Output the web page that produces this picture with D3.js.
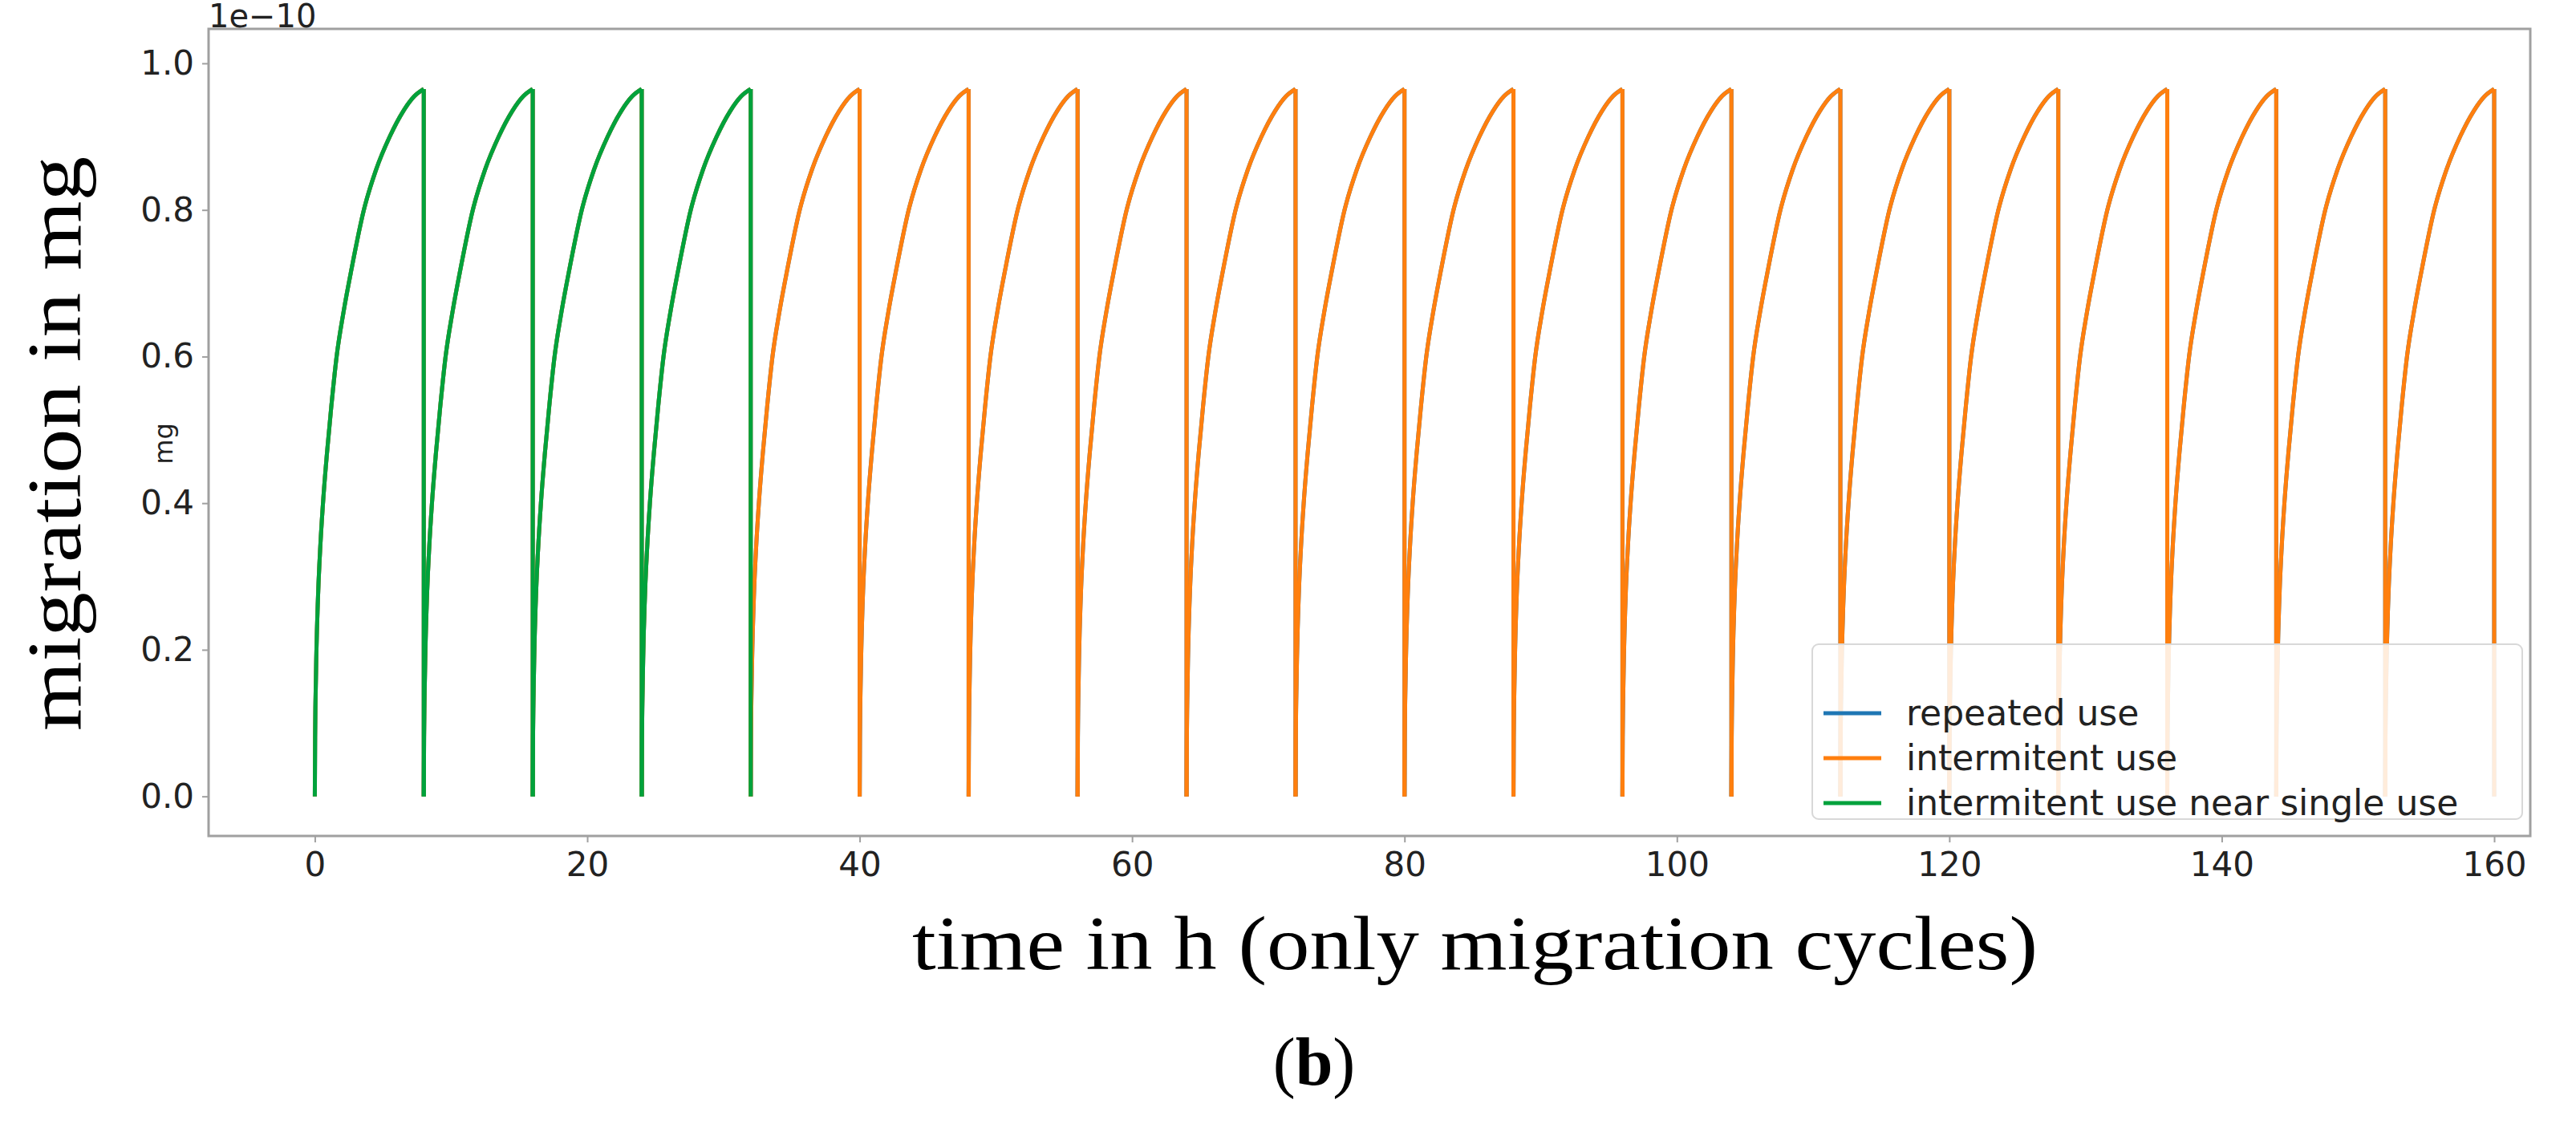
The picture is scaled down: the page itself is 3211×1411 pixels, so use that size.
<!DOCTYPE html>
<html><head><meta charset="utf-8">
<script src="https://cdn.jsdelivr.net/npm/d3@7"></script>
<style>body{margin:0;background:#fff}</style>
</head><body>
<svg id="c" width="3211" height="1411"></svg>
<script>
// One 8-hour migration cycle profile (hours within cycle, value in 1e-10 mg)
const cycleT = [0, 0.02, 0.05, 0.12, 0.25, 0.4, 0.6, 0.9, 1.2, 1.6, 2.1, 2.7, 3.6, 4.5, 5.5, 6.5, 7.3, 8.0];
const cycleY = [0, 0.08, 0.13, 0.2, 0.28, 0.34, 0.40, 0.47, 0.53, 0.60, 0.66, 0.72, 0.80, 0.855, 0.90, 0.935, 0.955, 0.965];
const cycleStarts = [0,8,16,24,32,40,48,56,64,72,80,88,96,104,112,120,128,136,144,152];
const greenStarts = [0,8,16,24];
const seriesNames = ["repeated use","intermitent use","intermitent use near single use"];
const seriesColors = ["#1f77b4","#ff7f0e","#00a23c"];
const xTicks = [0,20,40,60,80,100,120,140,160];
const yTicks = [0.0,0.2,0.4,0.6,0.8,1.0];

const svg = d3.select("#c");
const L=260, R=3154, T=36, B=1042;
const x = d3.scaleLinear().domain([-7.8,162.65]).range([L,R]);
const y = d3.scaleLinear().domain([-0.054,1.047]).range([B,T]);

const line = d3.line().x(d=>x(d[0])).y(d=>y(d[1])).curve(d3.curveMonotoneX);
const g = svg.append("g");
function drawSeries(starts,color){
  starts.forEach(s=>{
    const seg = cycleT.map((t,i)=>[s+t,cycleY[i]]);
    g.append("path").attr("d",line(seg)).attr("fill","none").attr("stroke",color).attr("stroke-width",5).attr("stroke-linejoin","round");
    const last = seg[seg.length-1];
    g.append("line").attr("x1",x(last[0])).attr("x2",x(last[0]))
      .attr("y1",y(last[1])).attr("y2",y(0)).attr("stroke",color).attr("stroke-width",5);
  });
}
drawSeries(cycleStarts,seriesColors[0]);
drawSeries(cycleStarts,seriesColors[1]);
drawSeries(greenStarts,seriesColors[2]);

// frame
svg.append("rect").attr("x",L).attr("y",T).attr("width",R-L).attr("height",B-T)
  .attr("fill","none").attr("stroke","#a0a0a0").attr("stroke-width",3);

const font="DejaVu Sans, sans-serif";
const xa = svg.append("g").attr("transform",`translate(0,${B})`)
  .call(d3.axisBottom(x).tickValues(xTicks).tickSize(8).tickPadding(12));
const ya = svg.append("g").attr("transform",`translate(${L},0)`)
  .call(d3.axisLeft(y).tickValues(yTicks).tickSize(8).tickPadding(10).tickFormat(d3.format(".1f")));
[xa,ya].forEach(a=>{
  a.select(".domain").remove();
  a.selectAll("line").attr("stroke","#a0a0a0").attr("stroke-width",2);
  a.selectAll("text").attr("font-family",font).attr("font-size",42).attr("fill","#222");
});
svg.append("text").attr("x",L).attr("y",T-2).attr("font-family",font).attr("font-size",40).attr("fill","#222").text("1e\u221210");

// legend
const lg = svg.append("g");
lg.append("rect").attr("x",2259).attr("y",803).attr("width",885).attr("height",218).attr("rx",8)
  .attr("fill","#fff").attr("fill-opacity",0.85).attr("stroke","#d8d8d8").attr("stroke-width",2);
seriesNames.forEach((n,i)=>{
  const yy = 889+i*56;
  lg.append("line").attr("x1",2273).attr("x2",2345).attr("y1",yy).attr("y2",yy).attr("stroke",seriesColors[i]).attr("stroke-width",5);
  lg.append("text").attr("x",2376).attr("y",yy+15).attr("font-family",font).attr("font-size",44).attr("fill","#222").text(n);
});

// labels
const serif="Liberation Serif, DejaVu Serif, serif";
svg.append("text").attr("x",1137).attr("y",1208).attr("font-family",serif).attr("font-size",96)
  .attr("textLength",1403).attr("lengthAdjust","spacingAndGlyphs").text("time in h (only migration cycles)");
svg.append("text").attr("transform","translate(100,911) rotate(-90)").attr("font-family",serif).attr("font-size",96)
  .attr("textLength",716).attr("lengthAdjust","spacingAndGlyphs").text("migration in mg");
svg.append("text").attr("transform","translate(215,553) rotate(-90)").attr("text-anchor","middle").attr("font-family",font)
  .attr("font-size",32).attr("fill","#222").text("mg");
const b = svg.append("text").attr("x",1638).attr("y",1352).attr("text-anchor","middle").attr("font-family",serif).attr("font-size",84);
b.append("tspan").text("(");
b.append("tspan").attr("font-weight","bold").text("b");
b.append("tspan").text(")");
</script>
</body></html>
